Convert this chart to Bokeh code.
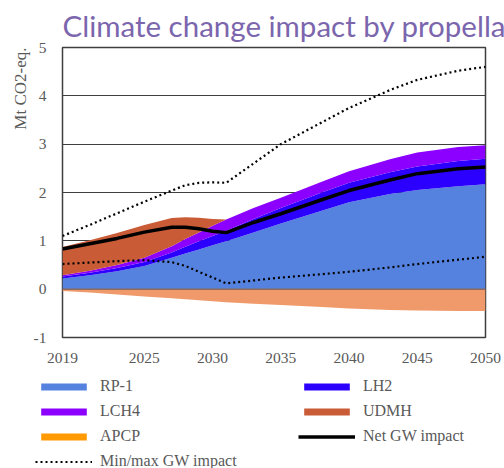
from bokeh.embed import file_html
from bokeh.layouts import column, row
from bokeh.models import (ColumnDataSource, FixedTicker, Legend, LegendItem,
                          Range1d, Span, Title)
from bokeh.plotting import figure
from bokeh.resources import INLINE

# Global-warming impact by propellant, Mt CO2-eq.
years = [2019, 2021, 2023, 2025, 2027, 2028, 2029, 2030, 2031,
         2033, 2035, 2038, 2040, 2043, 2045, 2048, 2050]
rp1 = [0.22, 0.29, 0.37, 0.48, 0.65, 0.74, 0.82, 0.91, 0.99,
       1.17, 1.36, 1.62, 1.80, 1.97, 2.05, 2.13, 2.17]
lh2 = [0.04, 0.05, 0.07, 0.08, 0.11, 0.14, 0.17, 0.19, 0.22,
       0.28, 0.32, 0.38, 0.40, 0.45, 0.49, 0.52, 0.53]
lch4 = [0.03, 0.04, 0.06, 0.09, 0.13, 0.16, 0.18, 0.21, 0.23,
        0.23, 0.21, 0.22, 0.24, 0.27, 0.29, 0.29, 0.28]
udmh = [0.58, 0.63, 0.66, 0.68, 0.58, 0.45, 0.31, 0.14, 0.00,
        0.00, 0.00, 0.00, 0.00, 0.00, 0.00, 0.00, 0.00]
apcp = [-0.04, -0.07, -0.11, -0.15, -0.19, -0.21, -0.23, -0.25, -0.27,
        -0.30, -0.33, -0.37, -0.40, -0.43, -0.44, -0.45, -0.45]
gw_max = [1.10, 1.33, 1.57, 1.81, 2.04, 2.15, 2.20, 2.21, 2.20,
          2.60, 3.00, 3.45, 3.75, 4.12, 4.33, 4.52, 4.60]
gw_min = [0.52, 0.55, 0.58, 0.60, 0.56, 0.48, 0.36, 0.24, 0.12,
          0.18, 0.24, 0.31, 0.36, 0.45, 0.52, 0.61, 0.67]

series_names = ["RP-1", "LH2", "LCH4", "UDMH", "APCP"]
series_colors = ["#5582DF", "#2B00FF", "#8C00FF", "#C95B37", "#F09A6B"]
key_colors = ["#5582DF", "#2B00FF", "#8C00FF", "#C95B37", "#FF9A00"]
net_name = "Net GW impact"
range_name = "Min/max GW impact"

x_ticks = [2019, 2025, 2030, 2035, 2040, 2045, 2050]
y_ticks = [-1, 0, 1, 2, 3, 4, 5]
y_tick_labels = ["-1", "0", "1", "2", "3", "4", "5"]

title_text = "Climate change impact by propellant"
y_title = "Mt CO2-eq."

TEXT_GREY = "#595959"
SERIF = "Liberation Serif"
NET_STYLE = dict(line_color="black", line_width=3.5)
RANGE_STYLE = dict(line_color="black", line_width=2.2, line_dash="2 3")

# net impact is the sum of all propellant contributions
net = [round(a + b + c + d + e, 3) for a, b, c, d, e in zip(rp1, lh2, lch4, udmh, apcp)]

src = ColumnDataSource(dict(year=years, rp1=rp1, lh2=lh2, lch4=lch4, udmh=udmh,
                            apcp=apcp, zero=[0] * len(years), net=net,
                            gw_max=gw_max, gw_min=gw_min))

# ---- main chart -----------------------------------------------------------
p = figure(width=504, height=370, output_backend="svg", toolbar_location=None,
           x_range=Range1d(2019, 2050), y_range=Range1d(-1, 5),
           min_border_left=62, min_border_right=19, min_border_top=46,
           min_border_bottom=33)

p.title.text = title_text
p.title.text_font = "Lato"
p.title.text_font_size = "29.5px"
p.title.text_font_style = "normal"
p.title.text_color = "#7B66AE"
p.title.align = "left"
p.title.standoff = 10

p.background_fill_color = "white"
p.border_fill_color = "white"
p.outline_line_color = "#3F3F3F"
p.outline_line_width = 1.5

# stacked positive contributions, APCP below zero
p.varea_stack(["rp1", "lh2", "lch4", "udmh"], x="year", source=src,
              color=series_colors[:4])
p.varea(x="year", y1="zero", y2="apcp", source=src, color=series_colors[4])

p.add_layout(Span(location=0, dimension="width", line_color="#8C6A5C", line_width=1.5))

p.line("year", "gw_max", source=src, **RANGE_STYLE)
p.line("year", "gw_min", source=src, **RANGE_STYLE)
p.line("year", "net", source=src, **NET_STYLE)

for ax in (p.xaxis[0], p.yaxis[0]):
    ax.axis_line_color = None
    ax.major_tick_line_color = None
    ax.minor_tick_line_color = None
    ax.major_label_text_font = SERIF
    ax.major_label_text_font_size = "15.5px"
    ax.major_label_text_color = TEXT_GREY
p.xaxis.ticker = FixedTicker(ticks=x_ticks)
p.xaxis.major_label_standoff = 9
p.yaxis.ticker = FixedTicker(ticks=y_ticks)
p.yaxis.major_label_overrides = {t: s for t, s in zip(y_ticks, y_tick_labels)}
p.yaxis.major_label_standoff = 10

p.xgrid.grid_line_color = None
p.ygrid.ticker = FixedTicker(ticks=[1, 2, 3, 4])
p.ygrid.grid_line_color = "#3F3F3F"
p.ygrid.grid_line_width = 1

# vertical axis title, set against the top of the frame
p.add_layout(Title(text=y_title, align="right", text_font=SERIF,
                   text_font_size="17px", text_font_style="normal",
                   text_color=TEXT_GREY, standoff=2), "left")

# ---- legend strip -----------------------------------------------------------
# key renderers share the chart data but sit outside this strip's ranges
k = figure(width=504, height=98, output_backend="svg", toolbar_location=None,
           x_range=Range1d(0, 1), y_range=Range1d(0, 1), min_border=0,
           x_axis_location=None, y_axis_location=None, outline_line_color=None)
k.grid.grid_line_color = None

key_r = k.varea_stack(["rp1", "lh2", "lch4", "udmh"], x="year", source=src,
                      color=key_colors[:4])
key_r.append(k.varea(x="year", y1="zero", y2="apcp", source=src, color=key_colors[4]))
items = [LegendItem(label=n, renderers=[r]) for n, r in zip(series_names, key_r)]
items.append(LegendItem(label=net_name,
                        renderers=[k.line("year", "net", source=src, **NET_STYLE)]))
items.append(LegendItem(label=range_name,
                        renderers=[k.line("year", "gw_max", source=src, **RANGE_STYLE)]))

legend = Legend(items=items, orientation="horizontal", ncols=2,
                location=(35, -2), padding=0, margin=0, spacing=7,
                glyph_width=57, glyph_height=9, label_standoff=8, label_width=191,
                label_text_font=SERIF, label_text_font_size="16px",
                label_text_color=TEXT_GREY, label_height=16,
                border_line_color=None, background_fill_alpha=0)
k.add_layout(legend)

layout = column(p, row(k), spacing=0)
open("out.html", "w").write(file_html(layout, INLINE))
